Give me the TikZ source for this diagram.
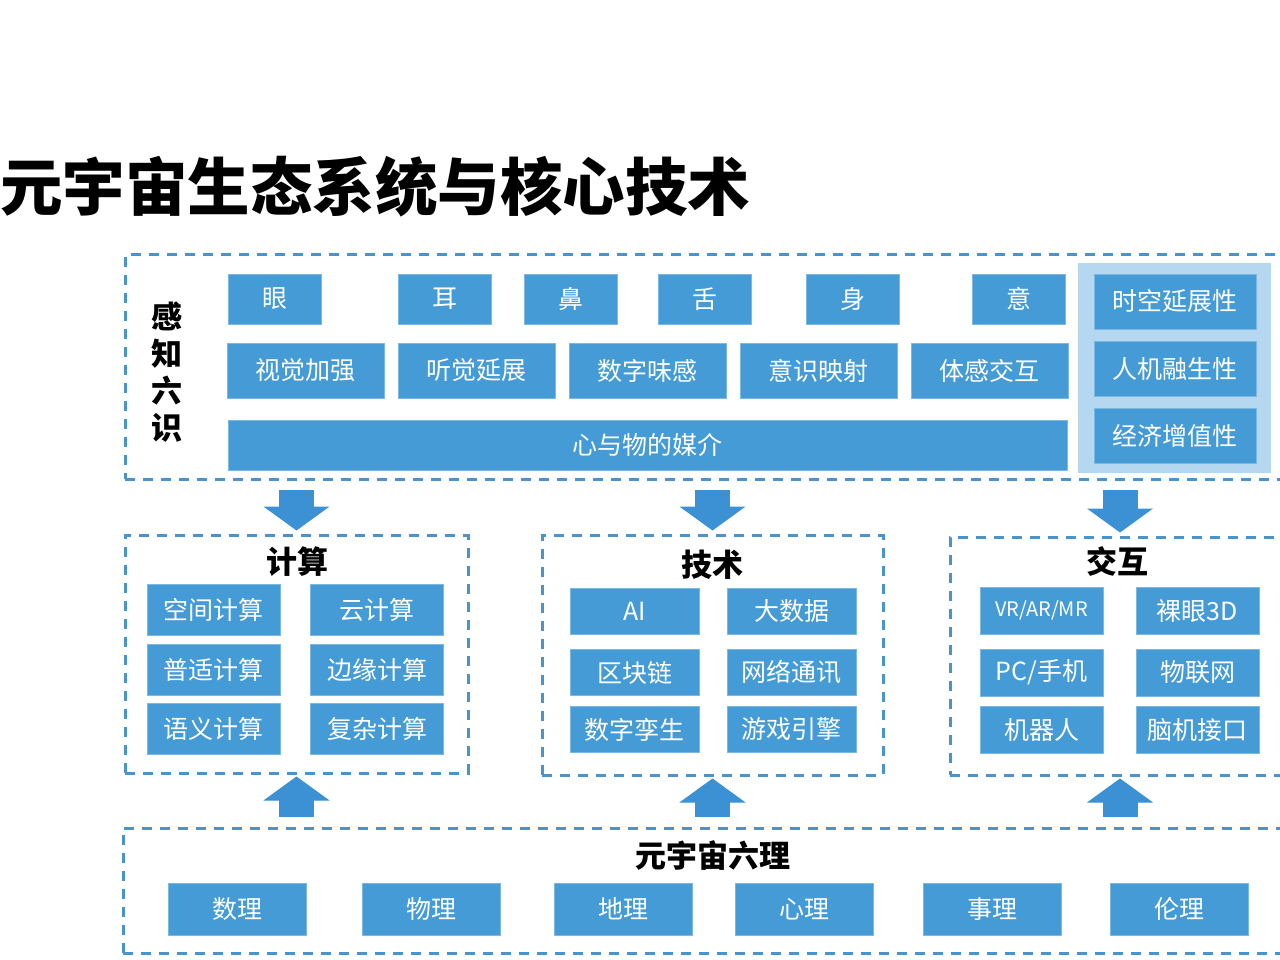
\documentclass[tikz,border=0pt]{standalone}
\usepackage{fontspec}
\setmainfont{Noto Sans CJK SC}
\usetikzlibrary{calc,arrows.meta}
\definecolor{cellblue}{RGB}{68,155,214}
\definecolor{dashblue}{RGB}{74,148,206}
\definecolor{panelblue}{RGB}{182,215,240}
\definecolor{arrowblue}{RGB}{60,145,212}

\begin{document}
\begin{tikzpicture}[x=1pt, y=-1pt, node distance=171pt,
    cell/.style={rectangle, fill=cellblue, draw=cellblue!70!white, line width=0.8pt, text=white, align=center, inner sep=0pt, font=\fontsize{25}{30}\selectfont},
    group/.style={rectangle, draw=dashblue, line width=3pt, dash pattern=on 10pt off 8pt, inner sep=0pt},
    heading/.style={inner sep=0pt, align=center, font=\fontsize{31}{37}\selectfont\bfseries},
    bigarrow/.style={draw=arrowblue, line width=35pt, -{Triangle[length=24pt, width=66pt, line width=1pt]}}]
    \useasboundingbox (0,0) rectangle (1280,960);
    \clip (0,0) rectangle (1280,960);

    % Groups
    \node[group, minimum width=1165pt, minimum height=224pt] (perc) at (707.5,367) {};
    \node[group, minimum width=343pt, minimum height=238pt] (comp) at (296.5,654) {};
    \node[group, minimum width=341pt, minimum height=240pt] (tech) at (712.5,655) {};
    \node[group, minimum width=340pt, minimum height=238pt] (inter) at (1120,656) {};
    \node[group, minimum width=1167pt, minimum height=125pt] (base) at (706.5,890.5) {};
    \node[rectangle, fill=panelblue, minimum width=193pt, minimum height=210pt] (panel) at (1174.5,368) {};

    % Titles
    \node[heading, anchor=west, font=\fontsize{62.5}{72}\selectfont\bfseries] (title) at (0,187) {元宇宙生态系统与核心技术};
    \node[heading, font=\fontsize{31}{37}\selectfont\bfseries] (perctitle) at (167,372) {感\\知\\六\\识};
    \node[heading] (comptitle) at (297,562) {计算};
    \node[heading] (techtitle) at (712,565) {技术};
    \node[heading] (intertitle) at (1117,561) {交互};
    \node[heading] (basetitle) at (713,855) {元宇宙六理};

    % Six senses
    \node[cell, minimum width=93pt, minimum height=50pt] (eye) at (275,299) {眼};
    \node[cell, minimum width=93pt, minimum height=50pt] (ear) [right of=eye, node distance=169.5pt] {耳};
    \node[cell, minimum width=93pt, minimum height=50pt] (nose) [right of=ear, node distance=126.5pt] {鼻};
    \node[cell, minimum width=93pt, minimum height=50pt] (tongue) [right of=nose, node distance=133.5pt] {舌};
    \node[cell, minimum width=93pt, minimum height=50pt] (body) [right of=tongue, node distance=148.5pt] {身};
    \node[cell, minimum width=93pt, minimum height=50pt] (mind) [right of=body, node distance=166pt] {意};

    \node[cell, minimum width=157pt, minimum height=55pt] (sight) at (305.5,370.5) {视觉加强};
    \node[cell, minimum width=157pt, minimum height=55pt] (hearing) [right of=sight] {听觉延展};
    \node[cell, minimum width=157pt, minimum height=55pt] (taste) [right of=hearing] {数字味感};
    \node[cell, minimum width=157pt, minimum height=55pt] (mapping) [right of=taste] {意识映射};
    \node[cell, minimum width=157pt, minimum height=55pt] (touch) [right of=mapping] {体感交互};

    \node[cell, minimum width=839pt, minimum height=50pt] (media) at (647.5,445) {心与物的媒介};

    \node[cell, minimum width=162pt, minimum height=55pt] (spacetime) at (1175,301.5) {时空延展性};
    \node[cell, minimum width=162pt, minimum height=55pt] (fusion) [below of=spacetime, node distance=67pt] {人机融生性};
    \node[cell, minimum width=162pt, minimum height=55pt] (economy) [below of=fusion, node distance=67pt] {经济增值性};

    % Computing
    \node[cell, minimum width=133pt, minimum height=51pt] (c1) at (213.5,609.5) {空间计算};
    \node[cell, minimum width=133pt, minimum height=51pt] (c2) [right of=c1, node distance=163.5pt] {云计算};
    \node[cell, minimum width=133pt, minimum height=51pt] (c3) [below of=c1, node distance=60.5pt] {普适计算};
    \node[cell, minimum width=133pt, minimum height=51pt] (c4) [right of=c3, node distance=163.5pt] {边缘计算};
    \node[cell, minimum width=133pt, minimum height=51pt] (c5) [below of=c3, node distance=59pt] {语义计算};
    \node[cell, minimum width=133pt, minimum height=51pt] (c6) [right of=c5, node distance=163.5pt] {复杂计算};

    % Technology
    \node[cell, minimum width=129pt, minimum height=46pt] (t1) at (634.5,611) {AI};
    \node[cell, minimum width=129pt, minimum height=46pt] (t2) [right of=t1, node distance=157pt] {大数据};
    \node[cell, minimum width=129pt, minimum height=46pt] (t3) [below of=t1, node distance=61.5pt] {区块链};
    \node[cell, minimum width=129pt, minimum height=46pt] (t4) [right of=t3, node distance=157pt] {网络通讯};
    \node[cell, minimum width=129pt, minimum height=46pt] (t5) [below of=t3, node distance=57pt] {数字孪生};
    \node[cell, minimum width=129pt, minimum height=46pt] (t6) [right of=t5, node distance=157pt] {游戏引擎};

    % Interaction
    \node[cell, minimum width=123pt, minimum height=47pt, font=\fontsize{20}{24}\selectfont] (i1) at (1041.5,610.5) {VR/AR/MR};
    \node[cell, minimum width=123pt, minimum height=47pt] (i2) [right of=i1, node distance=156pt] {裸眼3D};
    \node[cell, minimum width=123pt, minimum height=47pt] (i3) [below of=i1, node distance=62pt] {PC/手机};
    \node[cell, minimum width=123pt, minimum height=47pt] (i4) [right of=i3, node distance=156pt] {物联网};
    \node[cell, minimum width=123pt, minimum height=47pt] (i5) [below of=i3, node distance=57.5pt] {机器人};
    \node[cell, minimum width=123pt, minimum height=47pt] (i6) [right of=i5, node distance=156pt] {脑机接口};

    % Six principles
    \node[cell, minimum width=138pt, minimum height=52pt] (math) at (237,909) {数理};
    \node[cell, minimum width=138pt, minimum height=52pt] (physics) [right of=math, node distance=194.5pt] {物理};
    \node[cell, minimum width=138pt, minimum height=52pt] (geo) [right of=physics, node distance=191.5pt] {地理};
    \node[cell, minimum width=138pt, minimum height=52pt] (psych) [right of=geo, node distance=181pt] {心理};
    \node[cell, minimum width=138pt, minimum height=52pt] (affairs) [right of=psych, node distance=188pt] {事理};
    \node[cell, minimum width=138pt, minimum height=52pt] (ethics) [right of=affairs, node distance=187.5pt] {伦理};

    % Arrows
    \draw[bigarrow] ($(perc.south -| comp.north)+(0,9)$) -- ($(comp.north)+(0,-3)$);
    \draw[bigarrow] ($(perc.south -| tech.north)+(0,9)$) -- ($(tech.north)+(0,-3)$);
    \draw[bigarrow] ($(perc.south -| inter.north)+(0,9)$) -- ($(inter.north)+(0,-3)$);
    \draw[bigarrow] ($(base.north -| comp.south)+(0,-10)$) -- ($(comp.south)+(0,2)$);
    \draw[bigarrow] ($(base.north -| tech.south)+(0,-10)$) -- ($(tech.south)+(0,2)$);
    \draw[bigarrow] ($(base.north -| inter.south)+(0,-10)$) -- ($(inter.south)+(0,2)$);
\end{tikzpicture}
\end{document}
